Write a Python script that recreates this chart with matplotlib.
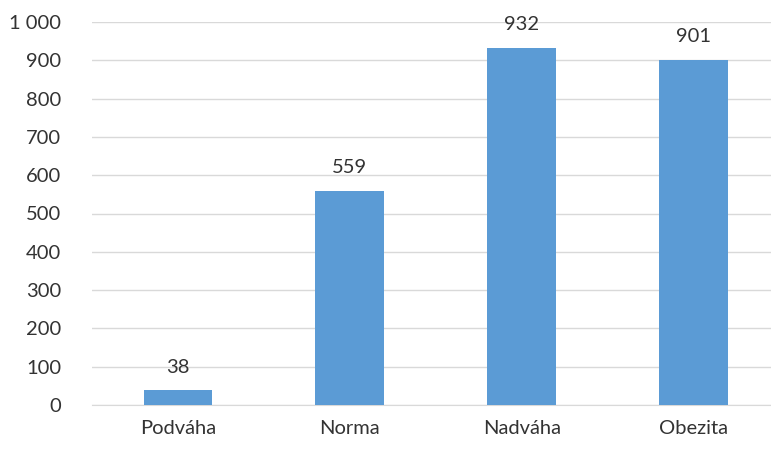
import matplotlib.pyplot as plt
from matplotlib.ticker import FuncFormatter

categories = ["Podváha", "Norma", "Nadváha", "Obezita"]
values = [38, 559, 932, 901]
yticks = list(range(0, 1001, 100))

plt.rcParams['font.family'] = ['Lato', 'DejaVu Sans']

fig = plt.figure(figsize=(7.71, 4.5), dpi=100)
ax = fig.add_axes([92 / 771, 1 - 405 / 450, 1 - 92 / 771, (405 - 22) / 450])

x = range(len(categories))
bars = ax.bar(x, values, width=0.4, color="#5B9BD5", zorder=3)
for xi, v in zip(x, values):
    ax.text(xi, v + 38, str(v), ha="center", va="bottom", fontsize=14.5, color="#333333")

ax.set_xlim(-0.5, 3.45)
ax.set_ylim(0, 1000)
ax.set_yticks(yticks)
ax.yaxis.set_major_formatter(FuncFormatter(lambda v, p: f"{int(v):,}".replace(",", " ")))
ax.set_xticks(list(x))
ax.set_xticklabels(categories)
ax.tick_params(axis="both", length=0, labelsize=14.5, labelcolor="#333333")
ax.tick_params(axis="y", pad=22)
ax.tick_params(axis="x", pad=11)
ax.grid(axis="y", color="#D9D9D9", linewidth=1, zorder=0)
for s in ax.spines.values():
    s.set_visible(False)
ax.spines["bottom"].set_visible(True)
ax.spines["bottom"].set_color("#D9D9D9")

fig.savefig("out.png", dpi=100)
